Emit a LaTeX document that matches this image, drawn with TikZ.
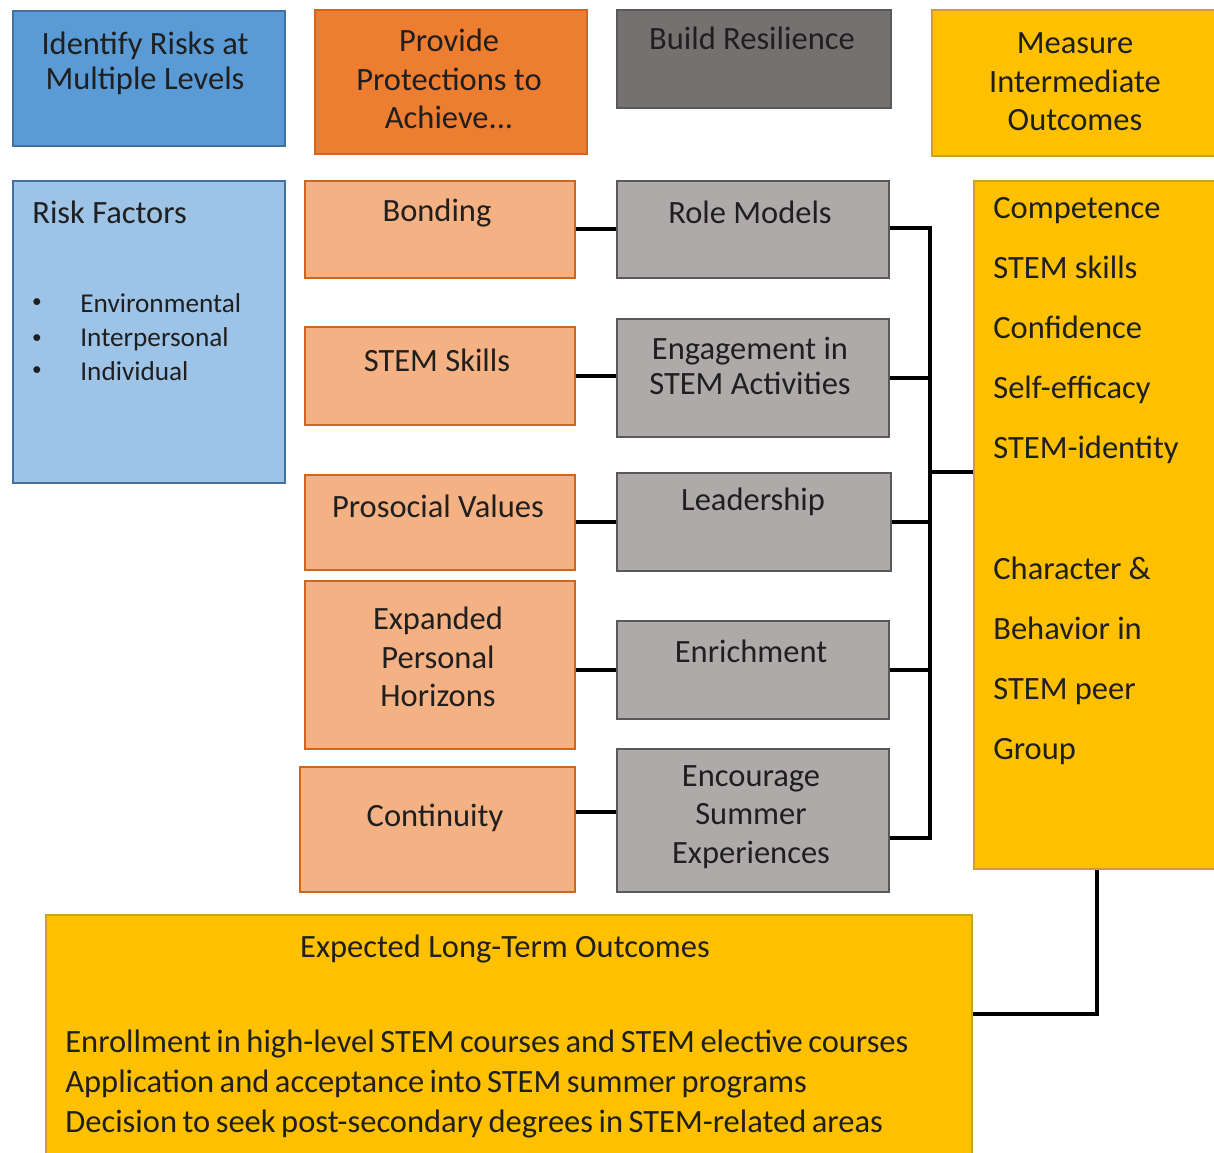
\documentclass[tikz,border=0pt]{standalone}
\usepackage{fontspec}
\setmainfont{Carlito}
\definecolor{riskblue}{HTML}{5B9BD5}
\definecolor{riskpale}{HTML}{9DC3E6}
\definecolor{riskline}{HTML}{41719C}
\definecolor{protorange}{HTML}{ED7D31}
\definecolor{protpale}{HTML}{F4B183}
\definecolor{protline}{HTML}{D0651E}
\definecolor{resgray}{HTML}{767171}
\definecolor{respale}{HTML}{AEAAAA}
\definecolor{resline}{HTML}{595959}
\definecolor{outgold}{HTML}{FFC000}
\definecolor{outline}{HTML}{C9A227}
\newcommand{\tightwords}{\spaceskip=0.17em plus 0.05em\relax}
\tikzset{
   box/.style 2 args={draw, line width=1pt, anchor=north west, inner sep=0pt,
      minimum width=#1*0.02cm, minimum height=#2*0.02cm},
   txt/.style={font=\fontsize{18.5}{22}\selectfont, align=center, text=black!88, inner sep=0pt},
   link/.style={line width=2.3pt},
}
\begin{document}
\begin{tikzpicture}[x=0.02cm, y=-0.02cm]
   \useasboundingbox (0,0) rectangle (1214,1153);

   % Header row
   \node[box={272}{135}, fill=riskblue, draw=riskline] (idrisk) at (12,10) {};
   \node[txt, font=\fontsize{18.5}{20}\selectfont] (t-idrisk) at (145,63) {Identify Risks at\\Multiple Levels};
   \node[box={272}{144}, fill=protorange, draw=protline] (prot) at (314,9) {};
   \node[txt] (t-prot) at (449,79) {Provide\\Protections to\\Achieve...};
   \node[box={274}{98}, fill=resgray, draw=resline] (build) at (616,9) {};
   \node[txt] (t-build) at (752,38) {Build Resilience};
   \node[box={283}{146}, fill=outgold, draw=outline] (meas) at (931,9) {};
   \node[txt] (t-meas) at (1075,82) {Measure\\Intermediate\\Outcomes};

   % Risk factors
   \node[box={272}{302}, fill=riskpale, draw=riskline] (riskf) at (12,180) {};
   \node[txt, anchor=west] (t-riskf) at (32,212) {Risk Factors};
   \foreach \y/\name in {303/Environmental, 339/Interpersonal, 371/Individual} {
      \node[txt, font=\fontsize{11}{12}\selectfont] (dot-\name) at (37,\y) {\textbullet};
      \node[txt, anchor=west, font=\fontsize{15.5}{18}\selectfont] (t-\name) at (80,\y) {\name};
   }

   % Protections
   \node[box={270}{97}, fill=protpale, draw=protline] (bond) at (304,180) {};
   \node[txt] (t-bond) at (437,213) {Bonding};
   \node[box={270}{98}, fill=protpale, draw=protline] (skill) at (304,326) {};
   \node[txt] (t-skill) at (437,360) {STEM Skills};
   \node[box={270}{95}, fill=protpale, draw=protline] (proso) at (304,474) {};
   \node[txt] (t-proso) at (438,506) {Prosocial Values};
   \node[box={270}{168}, fill=protpale, draw=protline] (horiz) at (304,580) {};
   \node[txt] (t-horiz) at (438,657) {Expanded\\Personal\\Horizons};
   \node[box={275}{125}, fill=protpale, draw=protline] (cont) at (299,766) {};
   \node[txt] (t-cont) at (435,818) {Continuity};

   % Resilience
   \node[box={272}{97}, fill=respale, draw=resline] (role) at (616,180) {};
   \node[txt] (t-role) at (750,212) {Role Models};
   \node[box={272}{118}, fill=respale, draw=resline] (engage) at (616,318) {};
   \node[txt, font=\fontsize{18.5}{20}\selectfont] (t-engage) at (750,366) {Engagement in\\STEM Activities};
   \node[box={274}{98}, fill=respale, draw=resline] (lead) at (616,472) {};
   \node[txt] (t-lead) at (753,502) {Leadership};
   \node[box={272}{98}, fill=respale, draw=resline] (enrich) at (616,620) {};
   \node[txt] (t-enrich) at (751,651) {Enrichment};
   \node[box={272}{143}, fill=respale, draw=resline] (summer) at (616,748) {};
   \node[txt] (t-summer) at (751,817) {Encourage\\Summer\\Experiences};

   % Intermediate outcomes
   \node[box={241}{688}, fill=outgold, draw=outline] (inter) at (973,180) {};
   \foreach \i/\item in {0/Competence, 1/STEM skills, 2/Confidence, 3/Self-efficacy,
         4/STEM-identity, 6/Character \&, 7/Behavior in, 8/STEM peer, 9/Group} {
      \node[txt, anchor=base west] (t-inter\i) at (993,218+60.2*\i) {\item};
   }

   % Long-term outcomes
   \node[box={926}{239}, fill=outgold, draw=outline] (longt) at (45,914) {};
   \node[txt] (t-longt) at (505,949) {Expected Long-Term Outcomes};
   \node[txt, anchor=north west, align=left, font=\fontsize{18.5}{22.7}\selectfont\tightwords] (t-longlist) at (65,1030)
      {Enrollment in high-level STEM courses and STEM elective courses\\
       Application and acceptance into STEM summer programs\\
       Decision to seek post-secondary degrees in STEM-related areas};

   % Connectors
   \coordinate (bustop) at (930,228);
   \coordinate (busbot) at (930,838);
   \coordinate (busmid) at (930,472);
   \draw[link] (bond.east) -- (bond.east -| role.west);
   \draw[link] (skill.east) -- (skill.east -| engage.west);
   \draw[link] (proso.east) -- (proso.east -| lead.west);
   \draw[link] (horiz.east |- enrich.west) -- (enrich.west);
   \draw[link] (cont.east |- 0,812) -- (summer.west |- 0,812);
   \draw[link] (role.east |- bustop) -- (bustop) -- (busbot) -- (summer.east |- busbot);
   \draw[link] (engage.east) -- (engage.east -| bustop);
   \draw[link] (lead.east) -- (lead.east -| bustop);
   \draw[link] (enrich.east) -- (enrich.east -| bustop);
   \draw[link] (busmid) -- (busmid -| inter.west);
   \draw[link] (inter.south -| 1097,0) |- ([yshift=0.41cm]longt.east);
\end{tikzpicture}
\end{document}
